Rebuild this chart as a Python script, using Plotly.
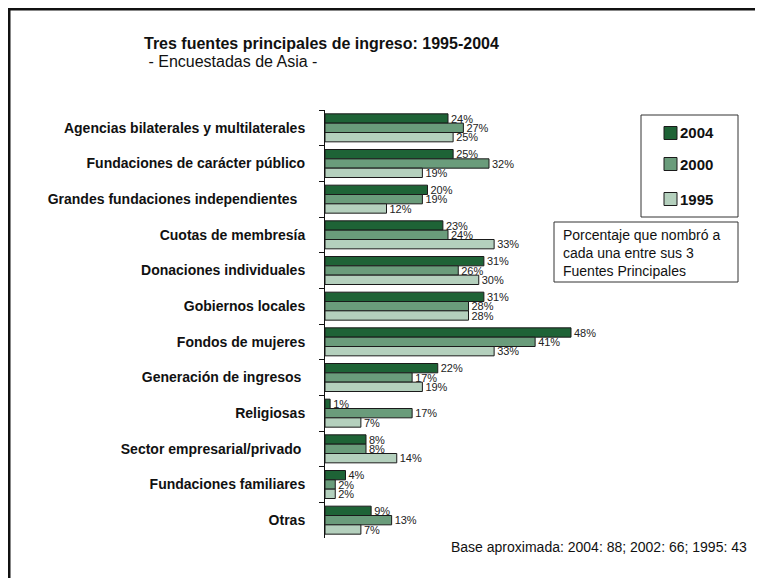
import plotly.graph_objects as go

categories = [
    "Agencias bilaterales y multilaterales",
    "Fundaciones de carácter público",
    "Grandes fundaciones independientes\u00a0\u00a0",
    "Cuotas de membresía",
    "Donaciones individuales",
    "Gobiernos locales",
    "Fondos de mujeres",
    "Generación de ingresos\u00a0",
    "Religiosas",
    "Sector empresarial/privado\u00a0",
    "Fundaciones familiares",
    "Otras",
]
years = ["2004", "2000", "1995"]
v2004 = [24, 25, 20, 23, 31, 31, 48, 22, 1, 8, 4, 9]
v2000 = [27, 32, 19, 24, 26, 28, 41, 17, 17, 8, 2, 13]
v1995 = [25, 19, 12, 33, 30, 28, 33, 19, 7, 14, 2, 7]
colors = ["#1e6336", "#6a9c7b", "#b4d0bd"]

W, H = 763, 578
OFF = 8  # page body margin
ML, MR, MT, MB = 317, 21, 102, 48
PW, PH = W - ML - MR, H - MT - MB

def px(x):  # page pixel -> paper
    return (x - OFF - ML) / PW

def py(y):
    return (H - MB - (y - OFF)) / PH

FONT = "Arial, Liberation Sans, sans-serif"
TXT = "#111111"

fig = go.Figure()
for name, vals, col in zip(years, [v2004, v2000, v1995], colors):
    fig.add_trace(go.Bar(
        y=categories, x=vals, name=name, orientation="h",
        marker=dict(color=col, line=dict(color="#1a1a1a", width=1)),
        text=[f"{v}%" for v in vals], textposition="outside",
        constraintext="none", cliponaxis=False,
        textfont=dict(family=FONT, size=11, color="#222222"),
        outsidetextfont=dict(family=FONT, size=11, color="#222222"),
        showlegend=False,
    ))

shapes = [
    dict(type="rect", xref="paper", yref="paper",
         x0=px(9), x1=px(800), y0=py(9), y1=py(620),
         line=dict(color="#111111", width=3), fillcolor="rgba(0,0,0,0)", layer="below"),
    dict(type="rect", xref="paper", yref="paper",
         x0=px(641), x1=px(738), y0=py(115), y1=py(217),
         line=dict(color="#333333", width=1), fillcolor="white"),
    dict(type="rect", xref="paper", yref="paper",
         x0=px(554), x1=px(738), y0=py(222), y1=py(282),
         line=dict(color="#333333", width=1), fillcolor="white"),
]
annotations = []
leg_y = [133, 164, 199]
for name, col, yy in zip(years, colors, leg_y):
    shapes.append(dict(type="rect", xref="paper", yref="paper",
                       x0=px(664), x1=px(677), y0=py(yy - 6.5), y1=py(yy + 6.5),
                       line=dict(color="#1a1a1a", width=1), fillcolor=col))
    annotations.append(dict(text=f"<b>{name}</b>", xref="paper", yref="paper",
                            x=px(678), y=py(yy), xanchor="left", yanchor="middle",
                            showarrow=False, font=dict(family=FONT, size=15, color=TXT)))

annotations += [
    dict(text="Porcentaje que nombró a<br>cada una entre sus 3<br>Fuentes Principales",
         xref="paper", yref="paper", x=px(561), y=py(253), xanchor="left", yanchor="middle",
         align="left", showarrow=False, font=dict(family=FONT, size=14, color=TXT)),
    dict(text="<b>Tres fuentes principales de ingreso: 1995-2004</b>",
         xref="paper", yref="paper", x=px(142), y=py(44), xanchor="left", yanchor="middle",
         showarrow=False, font=dict(family=FONT, size=16, color=TXT)),
    dict(text=" - Encuestadas de Asia -",
         xref="paper", yref="paper", x=px(142), y=py(61), xanchor="left", yanchor="middle",
         showarrow=False, font=dict(family=FONT, size=16, color=TXT)),
    dict(text="Base aproximada: 2004: 88; 2002: 66; 1995: 43",
         xref="paper", yref="paper", x=px(449), y=py(547), xanchor="left", yanchor="middle",
         showarrow=False, font=dict(family=FONT, size=14, color=TXT)),
]

fig.update_layout(
    width=W, height=H,
    margin=dict(l=ML, r=MR, t=MT, b=MB),
    paper_bgcolor="white", plot_bgcolor="white",
    barmode="group", bargap=0.215, bargroupgap=0,
    showlegend=False,
    shapes=shapes, annotations=annotations,
    xaxis=dict(range=[0, PW / 5.125], visible=False, fixedrange=True),
    yaxis=dict(autorange="reversed", showline=True, linecolor="#111111", linewidth=1,
               ticks="outside", ticklen=5, tickcolor="#111111", tickson="boundaries",
               ticklabelstandoff=16, showgrid=False,
               tickfont=dict(family=FONT, size=14, color=TXT, weight="bold")),
)

fig.write_html("out.html")
